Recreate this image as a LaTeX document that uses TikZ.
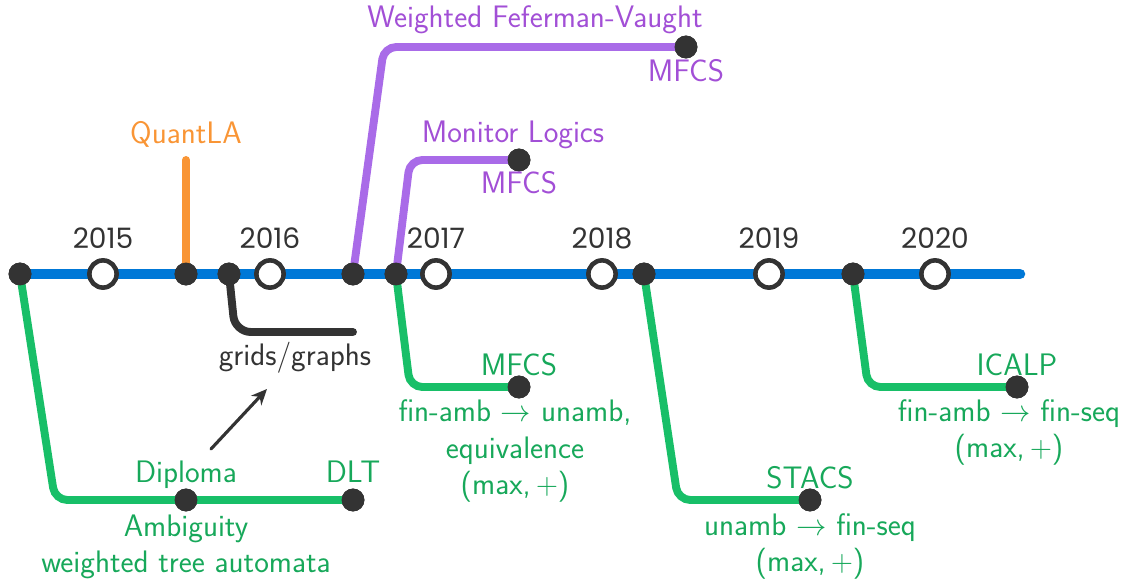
\documentclass[tikz,border=0pt]{standalone}
\usepackage{fontspec}
\newfontfamily\yearfont{Poppins}
\usetikzlibrary{arrows.meta}
\definecolor{mainblue}{HTML}{0078D7}
\definecolor{brgreen}{HTML}{18BF68}
\definecolor{txgreen}{HTML}{17A85A}
\definecolor{brpurple}{HTML}{A96BE8}
\definecolor{txpurple}{HTML}{A24FD6}
\definecolor{brorange}{HTML}{F99535}
\definecolor{dotdark}{HTML}{333333}
\begin{document}
\begin{tikzpicture}[x=0.02cm,y=-0.02cm,
  every node/.style={font=\sffamily\fontsize{17.7}{21}\selectfont},
  mainline/.style={line width=6pt,color=mainblue,line cap=round},
  branch/.style={line width=4.5pt,line cap=round,rounded corners=7pt},
  stop/.style={circle,fill=dotdark,inner sep=0pt,minimum size=13pt},
  yearstop/.style={circle,draw=dotdark,fill=white,line width=2.6pt,inner sep=0pt,minimum size=15.5pt},
  yearlbl/.style={anchor=base,text=dotdark,font=\yearfont\fontsize{16}{19}\selectfont},
  glbl/.style={anchor=base,text=txgreen,align=center},
  plbl/.style={anchor=base,text=txpurple,align=center},
]
\useasboundingbox (0,0) rectangle (1123,580);

% main line
\coordinate (start) at (20,274);
\coordinate (stop) at (1020,274);
\draw[mainline] (start) -- (stop);

% branch end points and corners
\coordinate (q) at (186,160);
\coordinate (fvc) at (384,47);
\coordinate (mlc) at (410,160);
\coordinate (dc) at (55,500);
\coordinate (g2c) at (410,387);
\coordinate (g3c) at (678,500);
\coordinate (g4c) at (868,387);
\coordinate (grc) at (235,332);
\coordinate (gre) at (353,332);

% stops on the main line
\node[stop] (s0) at (20,274) {};
\node[stop] (s1) at (186,274) {};
\node[stop] (s2) at (229,274) {};
\node[stop] (s3) at (353,274) {};
\node[stop] (s4) at (396,274) {};
\node[stop] (s5) at (644,274) {};
\node[stop] (s6) at (853,274) {};

% branch end stops
\node[stop] (fv) at (686,47) {};
\node[stop] (ml) at (519,160) {};
\node[stop] (dip) at (186,500) {};
\node[stop] (dlt) at (353,500) {};
\node[stop] (mf) at (519,387) {};
\node[stop] (st) at (810,500) {};
\node[stop] (ic) at (1017,387) {};

% branches
\draw[branch,brorange] (s1.center) -- (q);
\draw[branch,brpurple] (s3.center) -- (fvc) -- (fv.center);
\draw[branch,brpurple] (s4.center) -- (mlc) -- (ml.center);
\draw[branch,brgreen] (s0.center) -- (dc) -- (dlt.center);
\draw[branch,brgreen] (s4.center) -- (g2c) -- (mf.center);
\draw[branch,brgreen] (s5.center) -- (g3c) -- (st.center);
\draw[branch,brgreen] (s6.center) -- (g4c) -- (ic.center);
\draw[branch,dotdark,rounded corners=9pt] (s2.center) -- (grc) -- (gre);

% stops drawn again on top of the branches
\foreach \n in {s0,s1,s2,s3,s4,s5,s6,fv,ml,dip,dlt,mf,st,ic}
  \fill[dotdark] (\n) circle (6.5pt);

% year markers
\foreach \x/\yr in {103/2015,270/2016,436/2017,602/2018,769/2019,935/2020}{
  \node[yearstop] (y\yr) at (\x,274) {};
  \node[yearlbl] (l\yr) at (\x,249) {\yr};
}

% labels (multi-line labels sit on the baseline of their last line)
\node[anchor=base,text=brorange] (lq) at (186,144) {QuantLA};
\node[plbl] (lfv) at (535,28) {Weighted Feferman-Vaught};
\node[plbl] (lfvm) at (686,82) {MFCS};
\node[plbl] (lml) at (513,143) {Monitor Logics};
\node[plbl] (lmlm) at (519,194) {MFCS};

\node[glbl] (ldip) at (186,483) {Diploma};
\node[glbl] (ldlt) at (353,483) {DLT};
\node[glbl] (lamb) at (186,573) {Ambiguity\\weighted tree automata};

\node[glbl] (lmf) at (519,376) {MFCS};
\node[glbl] (lmfd) at (515,495) {fin-amb $\rightarrow$ unamb,\\equivalence\\(max,\,$+$)};

\node[glbl] (lst) at (810,489) {STACS};
\node[glbl] (lstd) at (810,572) {unamb $\rightarrow$ fin-seq\\(max,\,$+$)};

\node[glbl] (lic) at (1017,376) {ICALP};
\node[glbl] (licd) at (1009,458) {fin-amb $\rightarrow$ fin-seq\\(max,\,$+$)};

\node[anchor=base,text=dotdark] (lgr) at (295,366) {grids/graphs};
\coordinate (arrs) at (211,449);
\coordinate (arre) at (267,389);
\draw[dotdark,line width=1.8pt,line cap=round,-{Stealth[length=9pt,width=8pt]}] (arrs) -- (arre);
\end{tikzpicture}
\end{document}
